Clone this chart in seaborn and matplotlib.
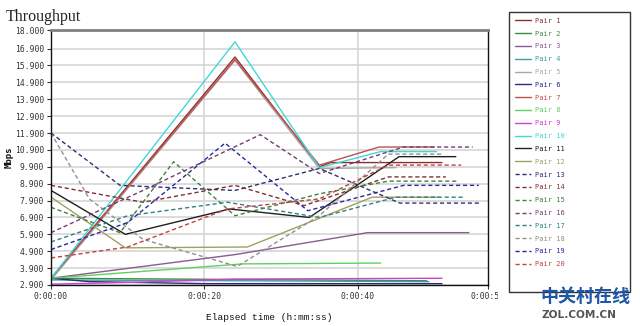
import matplotlib
matplotlib.use("Agg")
import matplotlib.pyplot as plt
import numpy as np
import pandas as pd
import seaborn as sns
from matplotlib.lines import Line2D
from matplotlib.patches import Rectangle

# ---------------- data ----------------
pair_names = [f"Pair {i}" for i in range(1, 21)]
pair_colors = ["#8B3030", "#3C8C3C", "#8C5A8C", "#3CA0A0", "#A8A8A8",
               "#2A2A80", "#C05050", "#60D060", "#D040D0", "#40D8D8",
               "#202020", "#A0A060", "#303070", "#803030", "#408040",
               "#704070", "#308080", "#909090", "#2828A0", "#C04040"]
pair_dashed = [False] * 12 + [True] * 8

# times in seconds, values in Mbps
p1_t = [0, 24, 35, 36.5, 51];          p1_v = [3.3, 16.4, 9.9, 10.15, 10.15]
p2_t = [0, 49];                        p2_v = [3.3, 3.15]
p3_t = [0, 24, 41.3, 54.5];            p3_v = [3.3, 4.7, 6.0, 6.0]
p4_t = [0, 49.3];                      p4_v = [3.2, 3.1]
p5_t = [0, 24, 35, 45];                p5_v = [3.2, 16.2, 9.8, 9.85]
p6_t = [0, 5, 20, 51];                 p6_v = [3.3, 3.1, 2.98, 2.98]
p7_t = [0, 24, 35, 42.8, 50];          p7_v = [3.3, 16.25, 10.0, 11.07, 11.07]
p8_t = [0, 25, 43];                    p8_v = [3.3, 4.15, 4.2]
p9_t = [0, 10, 24, 51];                p9_v = [2.95, 3.05, 3.25, 3.3]
p10_t = [0, 24, 35, 43, 50.3];         p10_v = [3.3, 17.3, 9.85, 10.8, 10.8]
p11_t = [0, 9.7, 23.3, 33.7, 45.4, 52.8]; p11_v = [8.5, 5.9, 7.4, 6.9, 10.5, 10.5]
p12_t = [0, 9.7, 25.6, 41.9, 50.6];    p12_v = [8.1, 5.1, 5.15, 8.1, 8.1]
p13_t = [0, 9, 24, 35, 45.5, 56];      p13_v = [11.9, 8.8, 8.5, 9.8, 7.75, 7.75]
p14_t = [0, 12, 24, 33, 44, 51.5];     p14_v = [8.8, 7.8, 8.8, 7.6, 9.3, 9.3]
p15_t = [0, 9, 16, 24, 35, 44, 53];    p15_v = [7.5, 6.0, 10.2, 7.0, 8.3, 9.05, 9.05]
p16_t = [0, 12, 27.3, 35, 46, 55];     p16_v = [6.0, 8.5, 11.8, 9.5, 11.07, 11.07]
p17_t = [0, 10, 23, 35, 45, 54];       p17_v = [5.45, 7.0, 7.8, 6.9, 8.1, 8.1]
p18_t = [0, 5, 12, 24.3, 35, 44, 51];  p18_v = [11.9, 8.0, 5.6, 4.0, 7.0, 10.65, 10.65]
p19_t = [0, 10, 22.7, 33.5, 46, 55.8]; p19_v = [5.0, 6.6, 11.3, 7.3, 8.8, 8.8]
p20_t = [0, 10, 23, 35, 44, 53.5];     p20_v = [4.5, 5.15, 7.4, 8.0, 10.0, 10.0]

y_ticks = [2.9, 3.9, 4.9, 5.9, 6.9, 7.9, 8.9, 9.9, 10.9, 11.9, 12.9,
           13.9, 14.9, 15.9, 16.9, 18.0]
x_ticks = [0, 20, 40, 57]
x_tick_labels = ["0:00:00", "0:00:20", "0:00:40", "0:00:57"]

all_t = [p1_t, p2_t, p3_t, p4_t, p5_t, p6_t, p7_t, p8_t, p9_t, p10_t,
         p11_t, p12_t, p13_t, p14_t, p15_t, p16_t, p17_t, p18_t, p19_t, p20_t]
all_v = [p1_v, p2_v, p3_v, p4_v, p5_v, p6_v, p7_v, p8_v, p9_v, p10_v,
         p11_v, p12_v, p13_v, p14_v, p15_v, p16_v, p17_v, p18_v, p19_v, p20_v]

rows = []
for name, ts, vs in zip(pair_names, all_t, all_v):
    for t, v in zip(ts, vs):
        rows.append({"t": t, "v": v, "pair": name})
df = pd.DataFrame(rows)

# ---------------- plot ----------------
sns.set_style("white")
plt.rcParams["font.family"] = ["DejaVu Sans Mono", "DejaVu Sans"]

fig = plt.figure(figsize=(6.4, 3.26), dpi=100)
ax = fig.add_axes([51 / 640, 1 - 285 / 326, (488 - 51) / 640, (285 - 30) / 326])

palette = dict(zip(pair_names, pair_colors))
dash_map = {n: ((3, 2) if d else "") for n, d in zip(pair_names, pair_dashed)}

sns.lineplot(data=df, x="t", y="v", hue="pair", style="pair",
             hue_order=pair_names, style_order=pair_names,
             palette=palette, dashes=dash_map, estimator=None, sort=False,
             linewidth=1.0, legend=False, ax=ax)

ax.set_xlim(0, 57)
ax.set_ylim(2.9, 18.0)
ax.set_yticks(y_ticks)
ax.set_yticklabels([f"{v:.3f}" for v in y_ticks])
ax.set_xticks(x_ticks)
ax.set_xticklabels(x_tick_labels)
ax.tick_params(axis="both", labelsize=5.8, colors="#333333", length=3, width=0.8,
               direction="out", pad=2)
ax.tick_params(axis="both", which="both", left=True, bottom=True)

for y in y_ticks:
    ax.axhline(y, color="#d2d2d2", lw=1.1, zorder=0)
for x in [20, 40]:
    ax.axvline(x, color="#d5d5d5", lw=1.1, zorder=0)

for side in ["left", "bottom", "right"]:
    ax.spines[side].set_color("#111111")
    ax.spines[side].set_linewidth(1.0)
ax.spines["top"].set_color("#808080")
ax.spines["top"].set_linewidth(2.0)

ax.set_xlabel("Elapsed time (h:mm:ss)", fontsize=6.8, family="Liberation Mono",
              color="#111111", labelpad=9)
ax.set_ylabel("Mbps", fontsize=6.5, fontweight="bold", color="#111111", labelpad=1)

fig.text(6 / 640, 1 - 21 / 326, "Throughput", family="Liberation Serif",
         fontsize=11.5, color="#222222")

# white cover + legend frame
fig.patches.append(Rectangle((498 / 640, 0), 142 / 640, 1, transform=fig.transFigure,
                             facecolor="white", edgecolor="none", zorder=1))
fig.patches.append(Rectangle((509 / 640, 1 - 292 / 326), (630 - 509) / 640,
                             (292 - 12) / 326, transform=fig.transFigure,
                             facecolor="white", edgecolor="#333333", lw=1.0, zorder=1))

handles = [Line2D([0], [0], color=c, lw=1.0, linestyle=(0, (3, 2)) if d else "-")
           for c, d in zip(pair_colors, pair_dashed)]
leg = fig.legend(handles, pair_names, loc="upper left",
                 bbox_to_anchor=(510 / 640, 1 - 13 / 326), frameon=False,
                 fontsize=5, handlelength=2.3, handletextpad=0.6,
                 labelspacing=0.98, borderpad=0.2)
for txt, c in zip(leg.get_texts(), pair_colors):
    txt.set_color(c)

# watermark
fig.text(540 / 640, 1 - 302 / 326, "中关村在线", family=["Noto Sans CJK SC"],
         fontsize=13, fontweight="bold", color="#1f56a6", zorder=6)
fig.text(541 / 640, 1 - 318 / 326, "ZOL.COM.CN", family=["DejaVu Sans"],
         fontsize=7.6, fontweight="bold", color="#555555", zorder=6)

fig.savefig("out.png", dpi=100)
